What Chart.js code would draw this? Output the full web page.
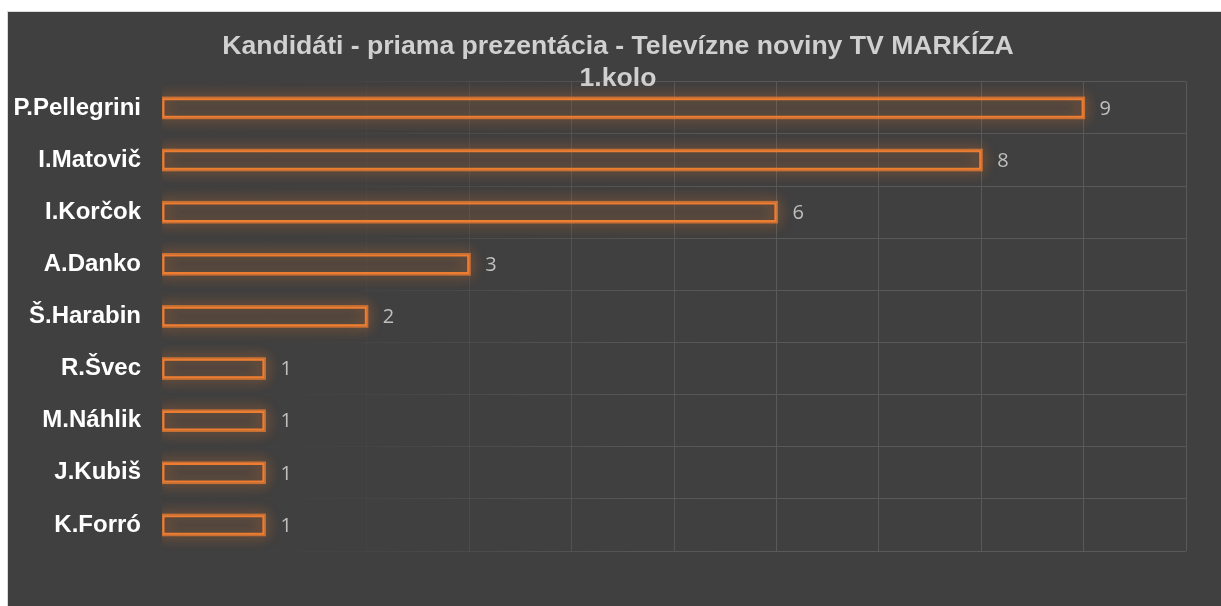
<!DOCTYPE html>
<html>
<head>
<meta charset="utf-8">
<script src="https://cdn.jsdelivr.net/npm/chart.js@4"></script>
<style>
  html, body { margin: 0; padding: 0; background: #ffffff; overflow: hidden; width: 1221px; height: 606px; }
  #frame { position: absolute; left: 7px; top: 11px; width: 1230px; height: 600px; border: 1px solid #d9d9d9; background: #404040; }
  #wrap { position: absolute; left: 0; top: 0; width: 1220px; height: 594px; }
</style>
</head>
<body>
<div id="frame"><div id="wrap"><canvas id="c" width="1220" height="594"></canvas></div></div>
<script>
const categories = ['P.Pellegrini', 'I.Matovič', 'I.Korčok', 'A.Danko', 'Š.Harabin', 'R.Švec', 'M.Náhlik', 'J.Kubiš', 'K.Forró'];
const values = [9, 8, 6, 3, 2, 1, 1, 1, 1];
const titleLines = ['Kandidáti - priama prezentácia - Televízne noviny TV MARKÍZA', '1.kolo'];
const axisMin = 0;
const axisMax = 10;

function fadeGrid(ctx) {
  const chart = ctx.chart;
  const a = chart.chartArea;
  if (!a) return 'rgba(89,89,89,1)';
  const g = chart.ctx.createLinearGradient(a.left, 0, a.right, 0);
  g.addColorStop(0, 'rgba(89,89,89,0)');
  g.addColorStop(0.1, 'rgba(89,89,89,0.03)');
  g.addColorStop(0.2, 'rgba(89,89,89,0.18)');
  g.addColorStop(0.3, 'rgba(89,89,89,0.45)');
  g.addColorStop(0.45, 'rgba(89,89,89,0.85)');
  g.addColorStop(0.6, 'rgba(89,89,89,1)');
  g.addColorStop(1, 'rgba(89,89,89,1)');
  return g;
}

const glowPlugin = {
  id: 'glow',
  beforeDatasetsDraw(chart) {
    const ctx = chart.ctx;
    const a = chart.chartArea;
    const meta = chart.getDatasetMeta(0);
    ctx.save();
    ctx.beginPath();
    ctx.rect(a.left, 0, chart.width - a.left, chart.height);
    ctx.clip();
    meta.data.forEach(el => {
      const p = el.getProps(['x', 'y', 'base', 'height'], true);
      const left = Math.min(p.base, p.x);
      const w = Math.abs(p.x - p.base);
      for (let k = 0; k < 2; k++) {
        ctx.shadowColor = 'rgba(237,125,49,0.9)';
        ctx.shadowBlur = 14;
        ctx.strokeStyle = 'rgba(237,125,49,0.5)';
        ctx.lineWidth = 3;
        ctx.strokeRect(left, p.y - p.height / 2, w, p.height);
      }
    });
    ctx.restore();
  },
  afterDatasetsDraw(chart) {
    const ctx = chart.ctx;
    const meta = chart.getDatasetMeta(0);
    const data = chart.data.datasets[0].data;
    ctx.save();
    ctx.font = '20px "Open Sans", sans-serif';
    ctx.fillStyle = '#bfbfbf';
    ctx.textAlign = 'left';
    ctx.textBaseline = 'middle';
    meta.data.forEach((el, i) => {
      const p = el.getProps(['x', 'y'], true);
      ctx.fillText(String(data[i]), p.x + 16, p.y + 1);
    });
    ctx.restore();
  }
};

new Chart(document.getElementById('c'), {
  type: 'bar',
  data: {
    labels: categories,
    datasets: [{
      data: values,
      backgroundColor: 'rgba(0,0,0,0)',
      borderColor: '#ed7d31',
      borderWidth: 2,
      borderSkipped: false,
      categoryPercentage: 1,
      barPercentage: 0.375
    }]
  },
  options: {
    indexAxis: 'y',
    responsive: false,
    animation: false,
    devicePixelRatio: 1,
    layout: { padding: { left: 0, right: 0, top: 0, bottom: 55 } },
    plugins: {
      legend: { display: false },
      tooltip: { enabled: false },
      title: {
        display: true,
        text: titleLines,
        color: '#d0d0d0',
        font: { family: '"Liberation Sans", Arial, sans-serif', size: 26.6, weight: 'bold', lineHeight: 1.2 },
        padding: { top: 19, bottom: -13 }
      }
    },
    scales: {
      x: {
        min: axisMin,
        max: axisMax,
        ticks: { display: false, stepSize: 1 },
        border: { display: false },
        grid: { color: fadeGrid, lineWidth: 1, drawTicks: false },
        afterFit(s) { s.height = 0; }
      },
      y: {
        ticks: {
          color: '#ffffff',
          padding: 21,
          font: { family: '"Liberation Sans", Arial, sans-serif', size: 24, weight: 'bold' }
        },
        border: { display: false },
        grid: { color: fadeGrid, lineWidth: 1, drawTicks: false, offset: true },
        afterFit(s) { s.width = 154; }
      },
      yRight: {
        type: 'linear',
        position: 'right',
        display: true,
        ticks: { display: false },
        grid: { display: false },
        border: { display: false },
        afterFit(s) { s.width = 42; }
      }
    }
  },
  plugins: [glowPlugin]
});
</script>
</body>
</html>
